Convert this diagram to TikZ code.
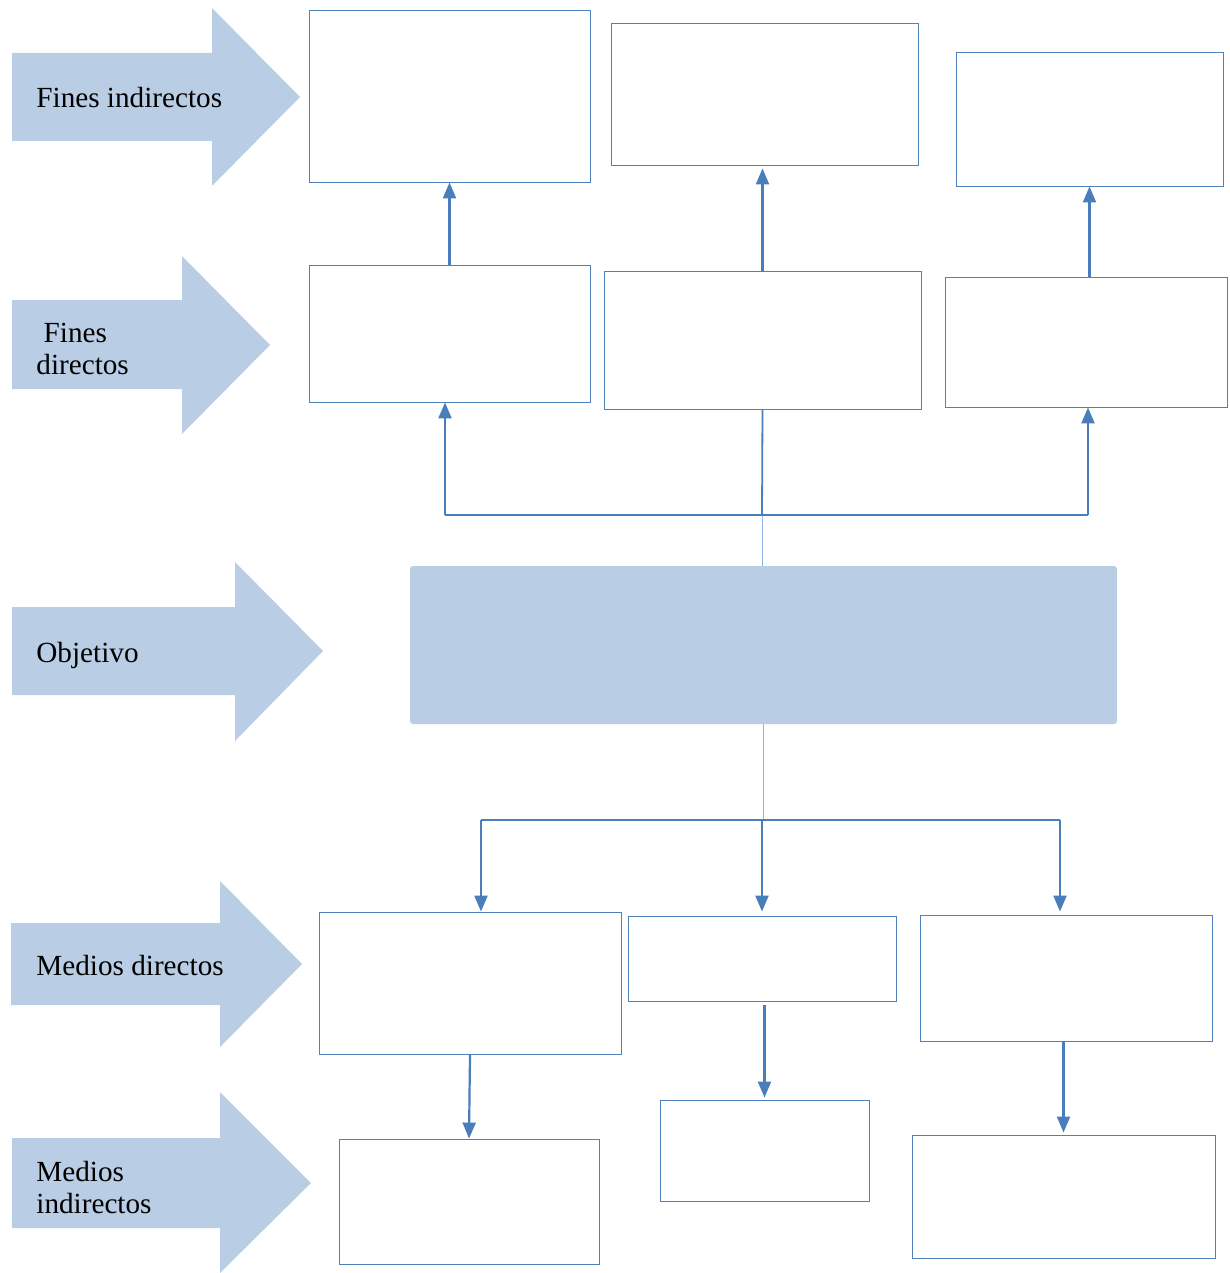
\documentclass[tikz,border=0pt]{standalone}
\usepackage{fontspec}
\setmainfont{Liberation Serif}
\usepackage{xcolor}
\usetikzlibrary{arrows.meta}

\definecolor{bandblue}{HTML}{B9CDE5}
\definecolor{lineblue}{HTML}{4A7EBB}
\definecolor{edgeblue}{HTML}{4F81BD}
\definecolor{paleblue}{HTML}{8EB4E3}

\begin{document}
\begin{tikzpicture}[x=0.5pt, y=-0.5pt,
	box/.style={rectangle, draw=edgeblue, line width=0.45pt, fill=white, inner sep=0pt},
	band/.style={fill=bandblue},
	tag/.style={font=\fontsize{14.6}{16}\selectfont, inner sep=0pt, align=left},
	link/.style={draw=lineblue, line width=1.1pt, -{Triangle[width=6.5pt, length=8pt]}},
	trunk/.style={draw=lineblue, line width=0.9pt},
	stem/.style={draw=paleblue, line width=0.5pt}]
	\useasboundingbox (0,0) rectangle (1230,1273);

	% Block arrows on the left
	\fill[band] (12,53) -- (212,53) -- (212,8) -- (300,97) -- (212,186) -- (212,141) -- (12,141) -- cycle;
	\fill[band] (12,300) -- (182,300) -- (182,256) -- (270,345) -- (182,434) -- (182,389) -- (12,389) -- cycle;
	\fill[band] (12,607) -- (235,607) -- (235,562) -- (323,651) -- (235,741) -- (235,695) -- (12,695) -- cycle;
	\fill[band] (11,923) -- (220,923) -- (220,881) -- (302,964) -- (220,1047) -- (220,1005) -- (11,1005) -- cycle;
	\fill[band] (12,1138) -- (220,1138) -- (220,1092) -- (311,1183) -- (220,1273) -- (220,1228) -- (12,1228) -- cycle;

	\node[tag, anchor=base west] (fi) at (36,108) {Fines indirectos};
	\node[tag, anchor=west] (fd) at (36,349) {~Fines\\directos};
	\node[tag, anchor=base west] (ob) at (36,662) {Objetivo};
	\node[tag, anchor=base west] (md) at (36,975) {Medios directos};
	\node[tag, anchor=west] (mi) at (36,1187) {Medios\\indirectos};

	% Fines indirectos
	\node[box, minimum width=140.5pt, minimum height=86pt] (a1) at (449.5,96) {};
	\node[box, minimum width=153.5pt, minimum height=71pt] (a2) at (764.5,94) {};
	\node[box, minimum width=133.5pt, minimum height=67pt] (a3) at (1089.5,119) {};

	% Fines directos
	\node[box, minimum width=140.5pt, minimum height=68.5pt] (b1) at (449.5,333.5) {};
	\node[box, minimum width=158.5pt, minimum height=69pt] (b2) at (762.5,340) {};
	\node[box, minimum width=141pt, minimum height=65pt] (b3) at (1086,342) {};

	% Objetivo
	\node[rectangle, fill=bandblue, rounded corners=1.5pt, minimum width=353.5pt, minimum height=79pt] (obj) at (763.5,645) {};

	% Medios directos
	\node[box, minimum width=151pt, minimum height=71pt] (c1) at (470,983) {};
	\node[box, minimum width=134pt, minimum height=42.5pt] (c2) at (762,958.5) {};
	\node[box, minimum width=146pt, minimum height=63pt] (c3) at (1066,978) {};

	% Medios indirectos
	\node[box, minimum width=130pt, minimum height=62.5pt] (d1) at (469,1201.5) {};
	\node[box, minimum width=104.5pt, minimum height=50.5pt] (d2) at (764.5,1150.5) {};
	\node[box, minimum width=151.5pt, minimum height=61.5pt] (d3) at (1063.5,1196.5) {};

	% Junctions
	\coordinate (up) at (762,515);
	\coordinate (upL) at (445,515);
	\coordinate (upR) at (1088,515);
	\coordinate (dn) at (763,820);
	\coordinate (dnL) at (481,820);
	\coordinate (dnM) at (762,820);
	\coordinate (dnR) at (1060,820);

	% Draw the edges between nodes
	\draw[link] (b1.north) -- (a1.south);
	\draw[link] (b2.north) -- ([yshift=-1.5pt]b2.north |- a2.south);
	\draw[link] (a3.south |- b3.north) -- (a3.south);

	\draw[stem] (up |- obj.north) -- (up);
	\draw[trunk] (b2.south) -- (up);
	\draw[trunk] (upL) -- (upR);
	\draw[link] (upL) -- (upL |- b1.south);
	\draw[link] (upR) -- (upR |- b3.south);

	\draw[stem] (dn |- obj.south) -- (dn);
	\draw[trunk] (dnL) -- (dnR);
	\draw[link] (dnL) -- (dnL |- c1.north);
	\draw[link] (dnM) -- (dnM |- c1.north);
	\draw[link] (dnR) -- (dnR |- c1.north);

	\draw[link] (c1.south) -- (d1.north);
	\draw[link] ([yshift=-2pt]d2.north |- c2.south) -- ([yshift=1pt]d2.north);
	\draw[link] (d3.north |- c3.south) -- ([yshift=1pt]d3.north);
\end{tikzpicture}
\end{document}
